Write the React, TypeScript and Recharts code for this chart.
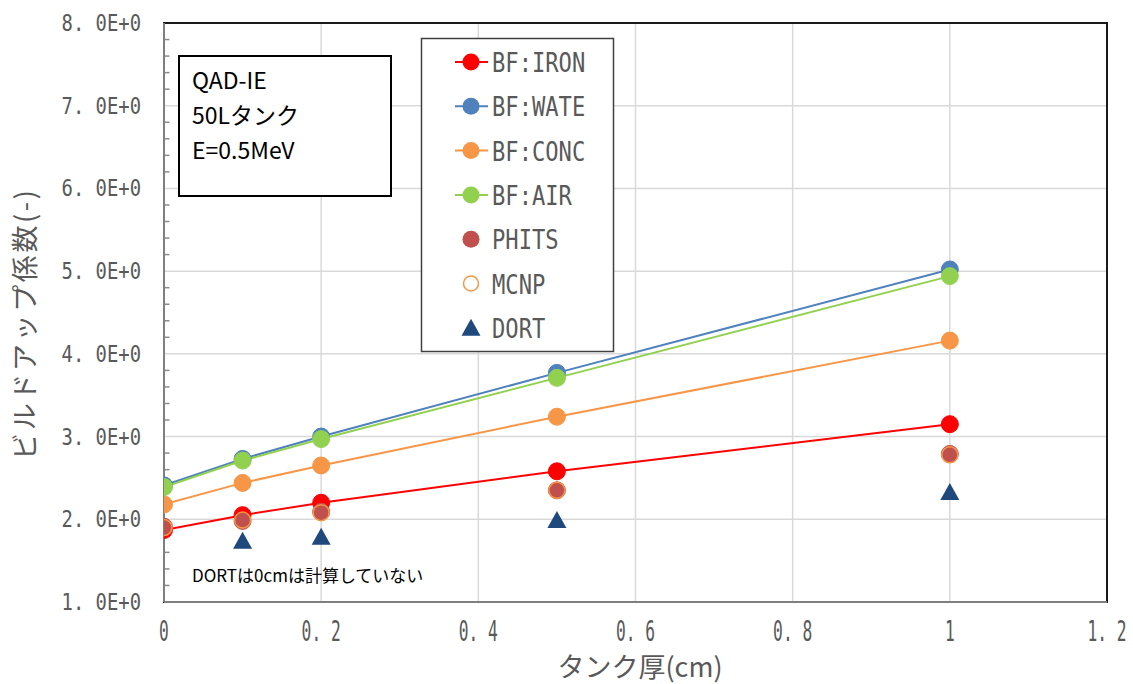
import React from 'react';
import {
  ComposedChart,
  Line,
  Scatter,
  XAxis,
  YAxis,
  CartesianGrid,
  ReferenceArea,
  ReferenceLine,
} from 'recharts';

// ---- data ----
const thickness = [0, 0.1, 0.2, 0.5, 1];
const bfIron = [1.87, 2.05, 2.2, 2.58, 3.15];
const bfWate = [2.41, 2.73, 3.0, 3.77, 5.02];
const bfConc = [2.18, 2.44, 2.65, 3.24, 4.16];
const bfAir = [2.39, 2.71, 2.97, 3.71, 4.94];
const phits = [1.91, 1.98, 2.09, 2.35, 2.79];
const mcnp = [1.9, 1.99, 2.08, 2.35, 2.78];
const dortThickness = [0.1, 0.2, 0.5, 1];
const dort = [1.74, 1.79, 1.99, 2.33];

const xTicks = [0, 0.2, 0.4, 0.6, 0.8, 1, 1.2];
const yTicks = [1, 2, 3, 4, 5, 6, 7, 8];
const seriesNames = ['BF:IRON', 'BF:WATE', 'BF:CONC', 'BF:AIR', 'PHITS', 'MCNP', 'DORT'];
const boxLines = ['QAD-IE', '50Lタンク', 'E=0.5MeV'];
const noteText = 'DORTは0cmは計算していない';
const xLabel = 'タンク厚(cm)';
const yLabel = 'ビルドアップ係数(-)';

const minorTicks: number[] = [];
for (let i = 1; i < 8; i++) {
  for (let j = 1; j < 5; j++) minorTicks.push(i + j * 0.2);
}

const pts = (xs: number[], ys: number[]) => xs.map((x, i) => ({ x, y: ys[i] }));
const ironData = pts(thickness, bfIron);
const wateData = pts(thickness, bfWate);
const concData = pts(thickness, bfConc);
const airData = pts(thickness, bfAir);
const phitsData = pts(thickness, phits);
const mcnpData = pts(thickness, mcnp);
const dortData = pts(dortThickness, dort);

const C_IRON = '#FF0000';
const C_WATE = '#4F81BD';
const C_CONC = '#F79646';
const C_AIR = '#92D050';
const C_PHITS = '#C0504D';
const C_MCNP = '#F79646';
const C_DORT = '#1F497D';
const TEXT = '#595959';

const fmtX = (v: number) => (Number.isInteger(v) ? String(v) : v.toFixed(1).replace('.', '. '));
const fmtY = (v: number) => v.toFixed(1).replace('.', '. ') + 'E+0';

const XTick = (props: any) => {
  const { x, y, payload } = props;
  return (
    <text
      transform={`translate(${x},${y + 39}) scale(0.56,1)`}
      textAnchor="middle"
      fontFamily="DejaVu Sans Mono"
      fontSize={29}
      fill={TEXT}
    >
      {fmtX(payload.value)}
    </text>
  );
};

const YTick = (props: any) => {
  const { payload, y } = props;
  return (
    <text
      transform={`translate(141,${y + 8}) scale(0.82,1)`}
      textAnchor="end"
      fontFamily="DejaVu Sans Mono"
      fontSize={23}
      fill={TEXT}
    >
      {fmtY(payload.value)}
    </text>
  );
};

const circleShape = (fill: string, stroke: string, r: number, sw: number) => (p: any) => (
  <circle cx={p.cx} cy={p.cy} r={r} fill={fill} stroke={stroke} strokeWidth={sw} />
);

const triShape = (p: any) => {
  const { cx, cy } = p;
  return (
    <polygon
      points={`${cx},${cy - 9} ${cx + 9.5},${cy + 8} ${cx - 9.5},${cy + 8}`}
      fill={C_DORT}
    />
  );
};

const legendItems = [
  { name: seriesNames[0], color: C_IRON, kind: 'line' },
  { name: seriesNames[1], color: C_WATE, kind: 'line' },
  { name: seriesNames[2], color: C_CONC, kind: 'line' },
  { name: seriesNames[3], color: C_AIR, kind: 'line' },
  { name: seriesNames[4], color: C_PHITS, kind: 'dot' },
  { name: seriesNames[5], color: C_MCNP, kind: 'ring' },
  { name: seriesNames[6], color: C_DORT, kind: 'tri' },
];

export default function App() {
  return (
    <div style={{ position: 'absolute', left: 0, top: 0, width: 1133, height: 684, background: '#fff' }}>
      <ComposedChart width={1133} height={684} margin={{ top: 23, right: 26, bottom: 0, left: 0 }}>
        <CartesianGrid stroke="#d9d9d9" strokeWidth={1.5} />
        <XAxis
          type="number"
          dataKey="x"
          domain={[0, 1.2]}
          ticks={xTicks}
          interval={0}
          height={82}
          axisLine={{ stroke: '#7f7f7f', strokeWidth: 2 }}
          tickLine={false}
          tickSize={0}
          tickMargin={0}
          tick={<XTick />}
          allowDataOverflow
        />
        <YAxis
          type="number"
          dataKey="y"
          domain={[1, 8]}
          ticks={yTicks}
          interval={0}
          width={164}
          axisLine={{ stroke: '#7f7f7f', strokeWidth: 2 }}
          tickLine={false}
          tickSize={0}
          tickMargin={0}
          tick={<YTick />}
          allowDataOverflow
        />
        <ReferenceArea x1={0} x2={1.2} y1={1} y2={8} fill="none" fillOpacity={0} stroke="#1a1a1a" strokeWidth={2} />
        {minorTicks.map((v) => (
          <ReferenceLine
            key={v}
            segment={[
              { x: 0, y: v },
              { x: 0.007, y: v },
            ]}
            stroke="#8c8c8c"
            strokeWidth={1.5}
          />
        ))}
        <Line data={ironData} dataKey="y" type="linear" stroke={C_IRON} strokeWidth={2}
          dot={{ r: 8.5, fill: C_IRON, stroke: C_IRON, strokeWidth: 1 }} activeDot={false} isAnimationActive={false} />
        <Line data={wateData} dataKey="y" type="linear" stroke={C_WATE} strokeWidth={2}
          dot={{ r: 8.5, fill: C_WATE, stroke: C_WATE, strokeWidth: 1 }} activeDot={false} isAnimationActive={false} />
        <Line data={concData} dataKey="y" type="linear" stroke={C_CONC} strokeWidth={2}
          dot={{ r: 8.5, fill: C_CONC, stroke: C_CONC, strokeWidth: 1 }} activeDot={false} isAnimationActive={false} />
        <Line data={airData} dataKey="y" type="linear" stroke={C_AIR} strokeWidth={2}
          dot={{ r: 8.5, fill: C_AIR, stroke: C_AIR, strokeWidth: 1 }} activeDot={false} isAnimationActive={false} />
        <Scatter data={phitsData} dataKey="y" shape={circleShape(C_PHITS, C_PHITS, 8.5, 1)} isAnimationActive={false} />
        <Scatter data={mcnpData} dataKey="y" shape={circleShape('none', C_MCNP, 8, 1.5)} isAnimationActive={false} />
        <Scatter data={dortData} dataKey="y" shape={triShape} isAnimationActive={false} />
      </ComposedChart>
      <svg
        width={1133}
        height={684}
        style={{ position: 'absolute', left: 0, top: 0, pointerEvents: 'none' }}
      >
        {/* axis titles */}
        <text x={640} y={677} textAnchor="middle" fontFamily="Noto Sans CJK JP" fontSize={27} fill={TEXT}>
          {xLabel}
        </text>
        <text
          transform="translate(35,325) rotate(-90)"
          textAnchor="middle"
          fontFamily="Noto Sans CJK JP"
          fontSize={27}
          fill={TEXT}
          textLength={270}
          lengthAdjust="spacing"
        >
          {yLabel}
        </text>
        {/* info box */}
        <rect x={179} y={56} width={212} height={140} fill="#fff" stroke="#000" strokeWidth={2} />
        {boxLines.map((t, i) => (
          <text key={t} x={192} y={89 + i * 35} fontFamily="Noto Sans CJK JP" fontSize={23} fill="#000">
            {t}
          </text>
        ))}
        {/* note */}
        <text x={192} y={582} fontFamily="Noto Sans CJK JP" fontSize={17} fill="#000">
          {noteText}
        </text>
        {/* legend */}
        <rect x={421.5} y={38.5} width={192} height={313} fill="#fff" stroke="#404040" strokeWidth={1.5} />
        {legendItems.map((it, i) => {
          const cy = 62 + i * 44.3;
          return (
            <g key={it.name}>
              {it.kind === 'line' && (
                <>
                  <line x1={455} x2={488} y1={cy} y2={cy} stroke={it.color} strokeWidth={2} />
                  <circle cx={471} cy={cy} r={8.5} fill={it.color} />
                </>
              )}
              {it.kind === 'dot' && <circle cx={471} cy={cy} r={8.5} fill={it.color} />}
              {it.kind === 'ring' && (
                <circle cx={471} cy={cy} r={7.5} fill="none" stroke={it.color} strokeWidth={1.5} />
              )}
              {it.kind === 'tri' && (
                <polygon points={`${471},${cy - 9} ${480.5},${cy + 8} ${461.5},${cy + 8}`} fill={it.color} />
              )}
              <text
                transform={`translate(492,${cy + 10}) scale(0.82,1)`}
                fontFamily="DejaVu Sans Mono"
                fontSize={27}
                fill={TEXT}
              >
                {it.name}
              </text>
            </g>
          );
        })}
      </svg>
    </div>
  );
}
